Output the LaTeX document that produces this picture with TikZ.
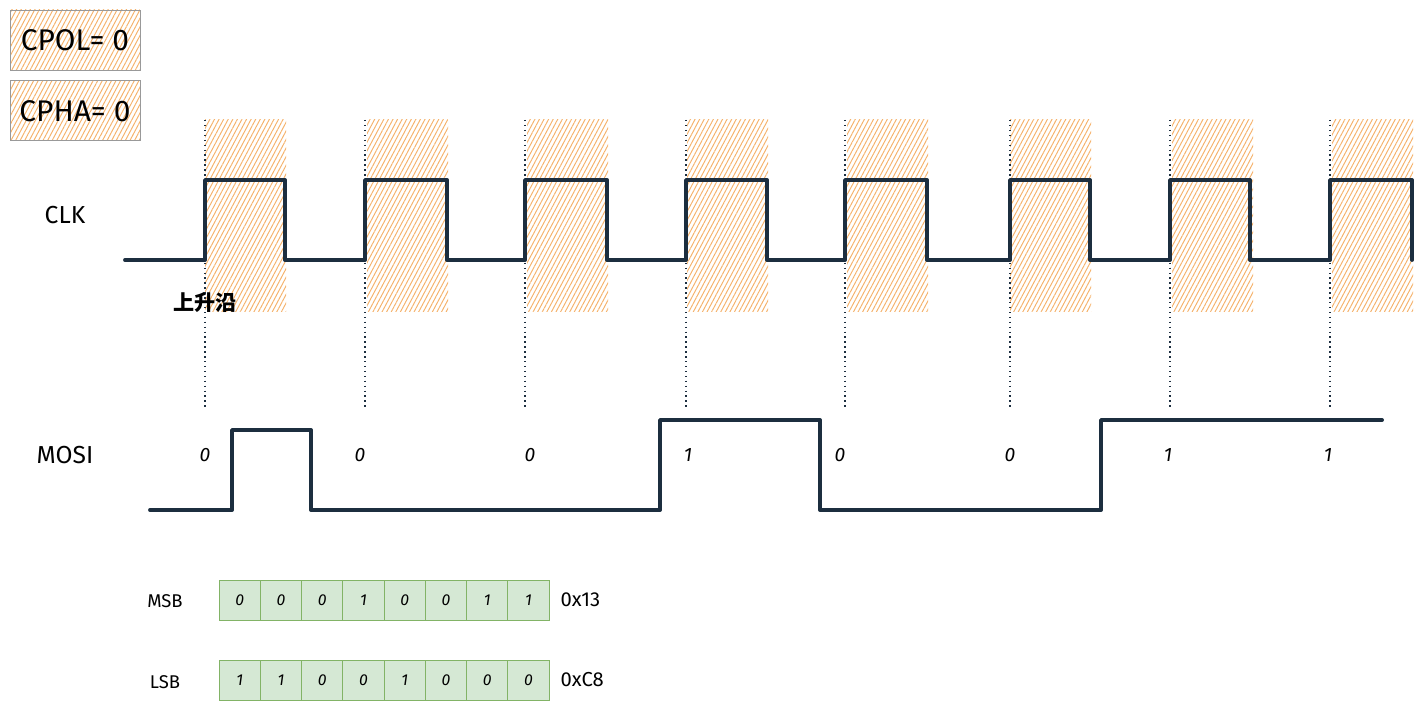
\documentclass[tikz,border=0pt]{standalone}
\usepackage{fontspec}
\setmainfont{Fira Sans}
\newfontfamily\cjk{Noto Sans CJK SC}
\usetikzlibrary{positioning,patterns.meta}
\usepackage{xcolor}
\definecolor{hatch}{HTML}{F5B26B}
\definecolor{wire}{HTML}{1C2E3F}
\definecolor{cellgreen}{HTML}{D5E8D4}
\definecolor{cellline}{HTML}{82B366}
\tikzset{
  hatched/.style={pattern={Lines[angle=62,distance=2.3pt,line width=0.55pt]},pattern color=hatch},
  flagbox/.style={draw=gray!80,hatched,minimum width=2.6cm,minimum height=1.2cm,font=\fontsize{17}{19}\selectfont},
  wave/.style={draw=wire,line width=2.2pt,line join=round,line cap=round},
  sig/.style={font=\fontsize{14}{16}\selectfont},
  bit/.style={font=\fontsize{11}{13}\selectfont\itshape},
  cell/.style={draw=cellline,fill=cellgreen,minimum width=0.825cm,minimum height=0.8cm,inner sep=0pt,font=\fontsize{9}{11}\selectfont\itshape},
  tag/.style={font=\fontsize{10.5}{12}\selectfont}
}

\begin{document}
\begin{tikzpicture}[x=0.02cm,y=-0.02cm]
\useasboundingbox (0,0) rectangle (1425,712);
% mode boxes
\node[flagbox] (cpol) at (75,40) {CPOL= 0};
\node[flagbox,below=.2cm of cpol] (cpha) {CPHA= 0};
% sampling windows and edges
\foreach \x in {205,367,527,687,847,1010,1172,1332} \fill[hatched] (\x,120) rectangle ++(81,192);
\foreach \x in {205,365,525,686,845,1010,1170,1330} \draw[wire,dotted,thick] (\x,120) -- (\x,410);
% clock
\node[sig] (clk) at (65,215) {CLK};
\draw[wave] (125,260) foreach \r/\f in {205/285,365/447,525/607,686/767,845/927,1010/1090,1170/1250,1330/1412} {-- (\r,260) -- (\r,180) -- (\f,180) -- (\f,260)};
\node[font=\cjk\bfseries\fontsize{12}{14}\selectfont] (rise) at (205,302) {上升沿};
% data line
\node[sig] (mosi) at (65,455) {MOSI};
\draw[wave] (150,510) -- (232,510) -- (232,430) -- (311,430) -- (311,510) -- (660,510) -- (660,420) -- (820,420) -- (820,510) -- (1101,510) -- (1101,420) -- (1382,420);
\foreach \x/\b in {205/0,360/0,530/0,688/1,840/0,1010/0,1168/1,1328/1} \node[bit] (d\x) at (\x,455) {\b};
% byte order
\node[tag] (msb) at (165,601) {MSB};
\foreach \b [count=\i] in {0,0,0,1,0,0,1,1} \node[cell] (m\i) at (198.4+41.25*\i,600) {\b};
\node[tag,font=\fontsize{11.5}{13}\selectfont,right=.1cm of m8] (hexm) {0x13};
\node[tag] (lsb) at (165,682) {LSB};
\foreach \b [count=\i] in {1,1,0,0,1,0,0,0} \node[cell] (l\i) at (198.4+41.25*\i,680) {\b};
\node[tag,font=\fontsize{11.5}{13}\selectfont,right=.1cm of l8] (hexl) {0xC8};
\end{tikzpicture}
\end{document}
